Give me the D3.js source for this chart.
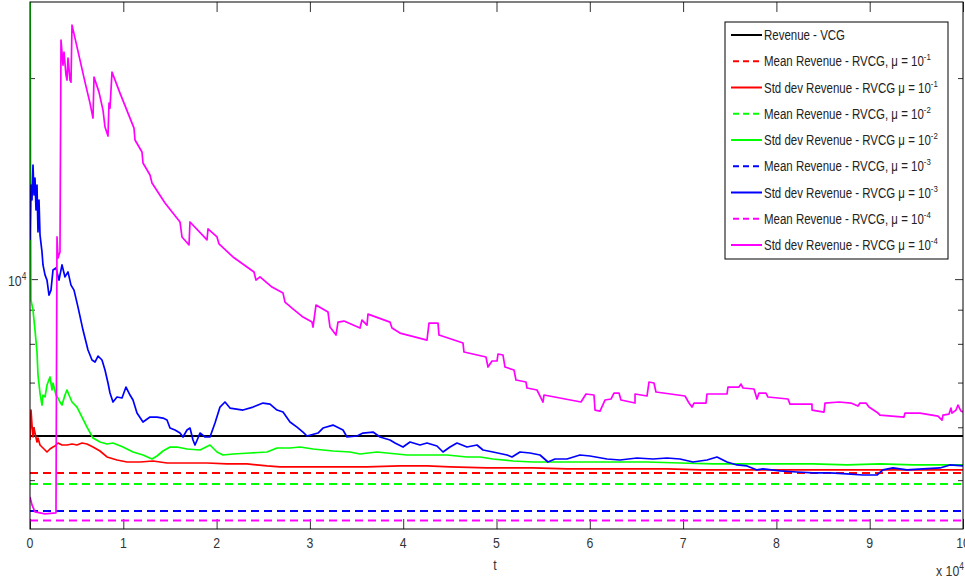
<!DOCTYPE html>
<html><head><meta charset="utf-8">
<script src="https://cdn.jsdelivr.net/npm/d3@7"></script>
<style>body{margin:0;background:#fff}svg{display:block}text{font-family:"Liberation Sans",Arial,Helvetica,sans-serif}</style>
</head><body><svg id="c" width="965" height="581"></svg>
<script>
// ---------------- data ----------------
const xLimits = [0, 100000];
const yLimits = [4225, 26000];
const xTickValues = [0,10000,20000,30000,40000,50000,60000,70000,80000,90000,100000];
const xTickLabels = ["0","1","2","3","4","5","6","7","8","9","10"];
const yMinorTicks = [5000,6000,7000,8000,9000,20000];
const yMajorTicks = [10000];

const vcgRevenue = 5821;
const meanRevenue = [5123, 4933, 4495, 4352]; // mu = 1e-1, 1e-2, 1e-3, 1e-4

const stdMu1 = [[0,5742],[107,6367],[214,6046],[322,5802],[429,5984],[536,5882],[750,5703],[857,5782],[1072,5644],[1393,5586],[1608,5548],[1822,5510],[2144,5567],[2465,5605],[2680,5625],[3001,5683],[3430,5644],[3966,5644],[4502,5664],[5037,5644],[5573,5683],[6109,5664],[6752,5605],[7503,5529],[8253,5416],[9325,5360],[10396,5323],[11790,5323],[13183,5341],[14684,5305],[16827,5305],[18971,5305],[21115,5287],[23258,5287],[25402,5251],[26795,5233],[28939,5233],[32476,5233],[36120,5233],[39657,5251],[42550,5251],[45016,5233],[48981,5215],[53911,5215],[57555,5197],[61093,5197],[68273,5197],[71810,5179],[78991,5179],[82529,5179],[89710,5179],[96784,5179],[100000,5179]];

const stdMu2 = [[0,32000],[107,9302],[322,8987],[536,8389],[750,7777],[857,7185],[1072,6752],[1286,6478],[1393,6706],[1608,6660],[1822,6941],[2144,7136],[2358,6823],[2465,6989],[2787,6706],[3001,6637],[3215,6546],[3430,6478],[3751,6706],[3966,6823],[4180,6706],[4502,6546],[5037,6433],[5573,6215],[6109,6004],[6752,5782],[7503,5703],[8253,5664],[8896,5683],[9968,5605],[11040,5510],[12111,5453],[13076,5378],[13612,5434],[14255,5529],[15005,5605],[15755,5605],[16827,5567],[18221,5548],[19292,5644],[20043,5510],[20686,5453],[21758,5472],[23580,5491],[25402,5510],[26474,5586],[27867,5586],[28939,5605],[30332,5567],[32476,5529],[34298,5510],[35369,5472],[37191,5510],[38264,5491],[40407,5453],[42550,5453],[44694,5453],[46837,5416],[48231,5416],[49624,5378],[51768,5341],[53911,5323],[56054,5323],[58949,5323],[62486,5323],[66130,5323],[69667,5305],[73204,5287],[76848,5287],[80385,5287],[83922,5287],[87566,5269],[91103,5287],[94640,5269],[98284,5269],[100000,5269]];

const stdMu3 = [[0,11446],[107,13833],[214,13137],[322,14820],[429,13365],[536,14170],[643,12692],[750,13833],[857,11766],[965,13137],[1072,11645],[1286,10982],[1393,10501],[1608,10146],[1822,9966],[2036,9464],[2251,9628],[2465,10322],[2787,10393],[3108,9966],[3430,10501],[3751,10076],[4073,10251],[4394,9796],[4716,9628],[5145,9080],[5681,8389],[6216,7831],[6645,7566],[6967,7514],[7288,7671],[7717,7566],[8039,7309],[8360,6989],[8574,6752],[8896,6546],[9325,6660],[9861,6637],[10289,6893],[10718,6706],[11040,6591],[11468,6301],[12111,6109],[12862,6215],[13612,6215],[14255,6193],[14684,6151],[15005,5984],[15541,5943],[16077,5882],[16399,5802],[16827,5943],[17149,5984],[17470,5742],[17685,5644],[18006,5782],[18221,5882],[18757,5802],[19292,5802],[19828,6088],[20364,6433],[20900,6546],[21436,6411],[22829,6367],[23901,6433],[24973,6523],[25723,6500],[26474,6367],[27117,6323],[27867,6109],[28617,6004],[29260,5902],[29689,5822],[30868,5882],[31404,5984],[32476,6046],[33547,5943],[33976,5802],[35048,5822],[35691,5882],[36763,5902],[37513,5802],[38585,5742],[39121,5683],[39978,5605],[40728,5703],[41800,5644],[42550,5683],[43622,5625],[44265,5510],[45016,5605],[45766,5683],[46837,5605],[47909,5644],[48552,5548],[49624,5510],[51125,5453],[51661,5416],[52518,5510],[53590,5491],[54662,5453],[55519,5323],[56269,5378],[57555,5378],[58949,5453],[60021,5434],[61843,5378],[63236,5360],[65058,5397],[66773,5378],[68273,5397],[69667,5378],[71060,5323],[72560,5360],[73632,5415],[74704,5323],[75776,5269],[76848,5251],[77920,5179],[78563,5197],[80385,5161],[82207,5143],[83922,5126],[85744,5126],[87566,5108],[89281,5090],[90782,5090],[91425,5179],[92496,5215],[93997,5179],[95712,5197],[97534,5215],[98606,5269],[100000,5251]];

const stdMu4 = [[0,4719],[214,4591],[536,4482],[1608,4451],[2787,4467],[2894,11565],[3001,10758],[3215,10982],[3323,22795],[3537,20914],[3644,21872],[3859,20206],[3966,19861],[4073,21424],[4287,19861],[4394,19724],[4502,24003],[4823,22952],[5359,21277],[5895,19724],[6431,18348],[6752,17424],[6860,20067],[7395,19056],[7824,17911],[8039,16892],[8360,16376],[8467,18348],[8574,18035],[8789,20416],[9646,18991],[11147,16834],[11254,16153],[12004,15499],[12111,14922],[12862,14318],[13076,13928],[14469,13002],[16077,12178],[16291,11565],[17042,11250],[17149,12178],[18971,11446],[19078,11888],[20043,11565],[20257,11289],[21758,10794],[24008,10251],[24223,9966],[24651,10076],[25938,9729],[27117,9529],[27331,9238],[28081,9049],[29260,8773],[30225,8623],[30332,8476],[30653,9143],[31940,8925],[32154,8476],[32797,8246],[33011,8623],[33655,8653],[35369,8447],[35584,8683],[36120,8535],[36227,8864],[38585,8623],[38799,8447],[39657,8303],[42550,8105],[42765,8594],[43730,8594],[43837,8246],[46409,8022],[46516,7777],[48874,7644],[49088,7385],[49517,7540],[50053,7540],[50160,7724],[50696,7697],[50911,7385],[51875,7309],[52089,7062],[53161,7013],[53268,6870],[54340,6823],[54983,6546],[55090,6706],[59056,6546],[59592,6729],[60450,6706],[60557,6367],[61093,6345],[61629,6591],[62271,6614],[62593,6752],[63129,6752],[63343,6591],[64844,6523],[64850,6729],[66130,6683],[66344,7013],[66880,6989],[67094,6776],[70203,6683],[70632,6523],[70953,6433],[71167,6523],[72453,6523],[72560,6729],[74704,6729],[74811,6893],[75990,6893],[76204,6965],[76419,6870],[77598,6847],[77920,6614],[78134,6752],[78884,6752],[79098,6660],[81242,6614],[81457,6500],[83815,6500],[83820,6367],[85101,6323],[85208,6523],[86709,6546],[87995,6523],[88745,6456],[88959,6523],[89603,6523],[89924,6433],[90889,6301],[91103,6258],[93675,6215],[93783,6301],[95390,6301],[97320,6236],[97749,6151],[97856,6258],[98499,6280],[98713,6411],[98820,6301],[99249,6367],[99463,6478],[99786,6345],[100000,6323]];

const legendLabels = ["Revenue - VCG",
  "Mean Revenue - RVCG, \u03bc = 10", "Std dev Revenue - RVCG \u03bc = 10",
  "Mean Revenue - RVCG, \u03bc = 10", "Std dev Revenue - RVCG \u03bc = 10",
  "Mean Revenue - RVCG, \u03bc = 10", "Std dev Revenue - RVCG \u03bc = 10",
  "Mean Revenue - RVCG, \u03bc = 10", "Std dev Revenue - RVCG \u03bc = 10"];
const legendSups = ["", "-1", "-1", "-2", "-2", "-3", "-3", "-4", "-4"];
const seriesColors = ["#000000", "#ff0000", "#ff0000", "#00ff00", "#00ff00", "#0000ff", "#0000ff", "#ff00ff", "#ff00ff"];
const seriesDashed = [false, true, false, true, false, true, false, true, false];

// ---------------- drawing ----------------
const svg = d3.select("#c");
const P = {left:30, right:963, top:2, bottom:529};
svg.append("rect").attr("width",965).attr("height",581).attr("fill","#fff");

const x = d3.scaleLinear().domain(xLimits).range([P.left, P.right]);
const y = d3.scaleLog().domain(yLimits).range([P.bottom, P.top]);

svg.append("defs").append("clipPath").attr("id","clip")
  .append("rect").attr("x",P.left).attr("y",P.top).attr("width",P.right-P.left).attr("height",P.bottom-P.top);

function txt(px, py, main, sup, size, anchor, fill, sx) {
  const g = svg.append("g").attr("transform", `translate(${px},${py}) scale(${sx||0.82},1)`);
  const t = g.append("text").attr("font-size", size).attr("fill", fill || "#222").attr("text-anchor", anchor || "start");
  t.append("tspan").text(main);
  if (sup) t.append("tspan").attr("font-size", size*0.68).attr("dy", -size*0.42).text(sup);
  return t;
}

// axes ticks (inward)
const tickColor = "#333";
function styleAxis(g){ g.select(".domain").remove(); g.selectAll("line").attr("stroke",tickColor); g.selectAll("text").remove(); }
svg.append("g").attr("transform",`translate(0,${P.bottom})`).call(d3.axisBottom(x).tickValues(xTickValues).tickSize(-10)).call(styleAxis);
svg.append("g").attr("transform",`translate(0,${P.top})`).call(d3.axisTop(x).tickValues(xTickValues).tickSize(-10)).call(styleAxis);
svg.append("g").attr("transform",`translate(${P.left},0)`).call(d3.axisLeft(y).tickValues(yMinorTicks).tickSize(-5)).call(styleAxis);
svg.append("g").attr("transform",`translate(${P.left},0)`).call(d3.axisLeft(y).tickValues(yMajorTicks).tickSize(-8)).call(styleAxis);
svg.append("g").attr("transform",`translate(${P.right},0)`).call(d3.axisRight(y).tickValues(yMinorTicks).tickSize(-5)).call(styleAxis);
svg.append("g").attr("transform",`translate(${P.right},0)`).call(d3.axisRight(y).tickValues(yMajorTicks).tickSize(-8)).call(styleAxis);

// series
const plotG = svg.append("g").attr("clip-path","url(#clip)");
const line = d3.line().x(d => x(d[0])).y(d => y(d[1]));
const stdSeries = [stdMu1, stdMu2, stdMu3, stdMu4];
function hline(val, color, dashed) {
  plotG.append("path").datum([[xLimits[0], val],[xLimits[1], val]]).attr("d", line)
    .attr("fill","none").attr("stroke",color).attr("stroke-width",2)
    .attr("stroke-dasharray", dashed ? "8,5" : null);
}
hline(vcgRevenue, seriesColors[0], false);
for (let i = 0; i < 4; i++) {
  hline(meanRevenue[i], seriesColors[1+2*i], true);
  plotG.append("path").datum(stdSeries[i]).attr("d", line)
    .attr("fill","none").attr("stroke", seriesColors[2+2*i]).attr("stroke-width",1.7)
    .attr("stroke-linejoin","round");
}

// frame
svg.append("rect").attr("x",P.left).attr("y",P.top).attr("width",P.right-P.left).attr("height",P.bottom-P.top)
  .attr("fill","none").attr("stroke","#000").attr("stroke-width",1);

// tick labels (the last one is clipped by the right edge, as in the reference)
xTickValues.forEach((v,i) => txt(x(v), 548, xTickLabels[i], "", 15, "middle", "#333"));
txt(8, 286, "10", "4", 15, "start", "#333");
txt(495, 570, "t", "", 15, "middle", "#333");
txt(936, 576, "x 10", "4", 15, "start", "#333");

// legend
const L = {x:725, y:22, w:223, h:237, row0:35, step:26.25};
svg.append("rect").attr("x",L.x).attr("y",L.y).attr("width",L.w).attr("height",L.h)
  .attr("fill","#fff").attr("stroke","#000").attr("stroke-width",1);
legendLabels.forEach((lab, i) => {
  const cy = L.row0 + i*L.step;
  svg.append("line").attr("x1",731).attr("x2",762).attr("y1",cy).attr("y2",cy)
    .attr("stroke",seriesColors[i]).attr("stroke-width",2)
    .attr("stroke-dasharray", seriesDashed[i] ? "6,4" : null)
    .attr("stroke-dashoffset", seriesDashed[i] ? -2 : null);
  txt(764, cy+5, lab, legendSups[i], 14, "start", "#222");
});
</script></body></html>
